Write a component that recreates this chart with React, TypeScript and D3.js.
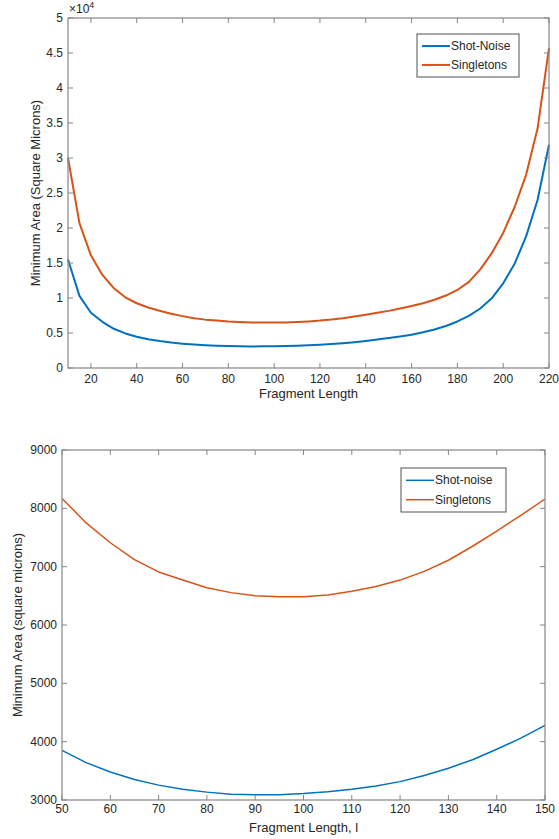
import React from 'react';
import * as d3 from 'd3';

// fragment lengths sampled every 5
const lengths = [10, 15, 20, 25, 30, 35, 40, 45, 50, 55, 60, 65, 70, 75, 80, 85, 90, 95, 100, 105, 110, 115, 120, 125, 130, 135, 140, 145, 150, 155, 160, 165, 170, 175, 180, 185, 190, 195, 200, 205, 210, 215, 220];
const shotNoise = [15500, 10300, 7900, 6600, 5600, 4940, 4470, 4120, 3850, 3640, 3480, 3350, 3255, 3185, 3135, 3100, 3088, 3090, 3110, 3140, 3185, 3240, 3315, 3420, 3545, 3690, 3870, 4060, 4280, 4500, 4750, 5100, 5500, 6000, 6650, 7450, 8500, 9950, 12100, 14900, 18800, 24000, 31900];
const singletons = [30000, 20700, 16100, 13300, 11400, 10100, 9250, 8650, 8170, 7750, 7410, 7120, 6910, 6770, 6640, 6555, 6500, 6485, 6485, 6515, 6580, 6660, 6770, 6920, 7110, 7350, 7610, 7880, 8160, 8500, 8850, 9250, 9750, 10350, 11150, 12300, 14100, 16400, 19300, 23000, 27600, 34200, 45700];

const topXTicks = [20, 40, 60, 80, 100, 120, 140, 160, 180, 200, 220];
const topYTicks = [0, 5000, 10000, 15000, 20000, 25000, 30000, 35000, 40000, 45000, 50000];
const bottomXTicks = [50, 60, 70, 80, 90, 100, 110, 120, 130, 140, 150];
const bottomYTicks = [3000, 4000, 5000, 6000, 7000, 8000, 9000];

const BLUE = '#0072BD';
const ORANGE = '#D95319';
const AXIS = '#858585';
const TEXT = '#262626';
const FONT = '"Liberation Sans", Arial, Helvetica, sans-serif';

type PanelProps = {
  box: { left: number; top: number; right: number; bottom: number };
  xDomain: [number, number];
  yDomain: [number, number];
  xTicks: number[];
  yTicks: number[];
  yFormat: (v: number) => string;
  xLabel: string;
  yLabel: string;
  yLabelX: number;
  xLabelY: number;
  xTickGap: number;
  names: [string, string];
  legend: { x: number; y: number; w: number; h: number };
  lineWidth: number;
  exponent?: boolean;
};

const Panel = (p: PanelProps) => {
  const { left, top, right, bottom } = p.box;
  const x = d3.scaleLinear().domain(p.xDomain).range([left, right]);
  const y = d3.scaleLinear().domain(p.yDomain).range([bottom, top]);
  const idx = lengths.map((_, i) => i).filter(i => lengths[i] >= p.xDomain[0] && lengths[i] <= p.xDomain[1]);
  const pathFor = (vals: number[]) =>
    d3.line<number>().x(i => x(lengths[i])).y(i => y(vals[i]))(idx) || '';
  const tk = 5;

  return (
    <g fontFamily={FONT}>
      {/* data lines */}
      <path d={pathFor(shotNoise)} fill="none" stroke={BLUE} strokeWidth={p.lineWidth} strokeLinejoin="round" />
      <path d={pathFor(singletons)} fill="none" stroke={ORANGE} strokeWidth={p.lineWidth} strokeLinejoin="round" />

      {/* box */}
      <rect x={left} y={top} width={right - left} height={bottom - top} fill="none" stroke={AXIS} strokeWidth={1.2} />

      {/* x ticks, inside, top and bottom */}
      {p.xTicks.map(t => (
        <g key={'x' + t}>
          <line x1={x(t)} x2={x(t)} y1={bottom} y2={bottom - tk} stroke={AXIS} />
          <line x1={x(t)} x2={x(t)} y1={top} y2={top + tk} stroke={AXIS} />
          <text x={x(t)} y={bottom + p.xTickGap} textAnchor="middle" fontSize={12} fill={TEXT}>{t}</text>
        </g>
      ))}
      {/* y ticks, inside, left and right */}
      {p.yTicks.map(t => (
        <g key={'y' + t}>
          <line x1={left} x2={left + tk} y1={y(t)} y2={y(t)} stroke={AXIS} />
          <line x1={right} x2={right - tk} y1={y(t)} y2={y(t)} stroke={AXIS} />
          <text x={left - 5} y={y(t) + 4} textAnchor="end" fontSize={12} fill={TEXT}>{p.yFormat(t)}</text>
        </g>
      ))}

      {p.exponent && (
        <text x={left + 1} y={top - 5} fontSize={12} fill={TEXT}>
          ×10<tspan dy={-5} fontSize={9}>4</tspan>
        </text>
      )}

      <text x={(left + right) / 2} y={p.xLabelY} textAnchor="middle" fontSize={13} fill={TEXT}>{p.xLabel}</text>
      <text transform={`translate(${p.yLabelX},${(top + bottom) / 2}) rotate(-90)`} textAnchor="middle" fontSize={13} fill={TEXT}>{p.yLabel}</text>

      {/* legend */}
      <g transform={`translate(${p.legend.x},${p.legend.y})`}>
        <rect width={p.legend.w} height={p.legend.h} fill="#fff" stroke={TEXT} strokeWidth={0.8} />
        {[BLUE, ORANGE].map((c, i) => (
          <g key={c} transform={`translate(0,${p.legend.h * (0.28 + i * 0.44)})`}>
            <line x1={5} x2={33} y1={0} y2={0} stroke={c} strokeWidth={p.lineWidth} />
            <text x={34} y={4} fontSize={12} fill={TEXT}>{p.names[i]}</text>
          </g>
        ))}
      </g>
    </g>
  );
};

const App = () => (
  <svg width={559} height={839} style={{ position: 'absolute', left: 0, top: 0, background: '#fff' }}>
    <Panel
      box={{ left: 68, top: 18, right: 549, bottom: 368 }}
      xDomain={[10, 220]}
      yDomain={[0, 50000]}
      xTicks={topXTicks}
      yTicks={topYTicks}
      yFormat={v => d3.format('~g')(v / 10000)}
      xLabel="Fragment Length"
      yLabel="Minimum Area (Square Microns)"
      yLabelX={40}
      xLabelY={398}
      xTickGap={15}
      names={['Shot-Noise', 'Singletons']}
      legend={{ x: 417, y: 34, w: 102, h: 43 }}
      lineWidth={2}
      exponent
    />
    <Panel
      box={{ left: 62, top: 450, right: 545, bottom: 800 }}
      xDomain={[50, 150]}
      yDomain={[3000, 9000]}
      xTicks={bottomXTicks}
      yTicks={bottomYTicks}
      yFormat={v => String(v)}
      xLabel="Fragment Length, l"
      yLabel="Minimum Area (square microns)"
      yLabelX={22}
      xLabelY={832}
      xTickGap={13}
      names={['Shot-noise', 'Singletons']}
      legend={{ x: 401, y: 468, w: 105, h: 44 }}
      lineWidth={1.5}
    />
  </svg>
);

export default App;
